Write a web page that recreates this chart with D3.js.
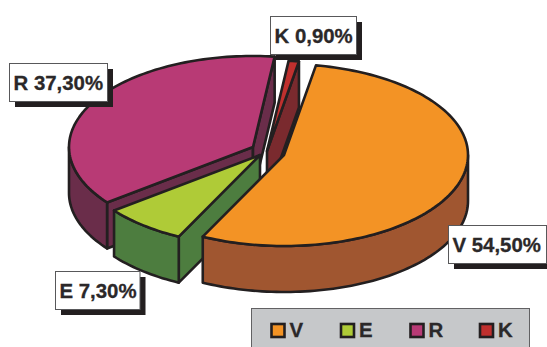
<!DOCTYPE html>
<html>
<head>
<meta charset="utf-8">
<script src="https://cdn.jsdelivr.net/npm/d3@7"></script>
<style>
html,body{margin:0;padding:0;background:#fff;overflow:hidden}
svg{display:block}
text{font-family:"Liberation Sans",Arial,sans-serif;font-weight:bold;fill:#2b2829;stroke:#2b2829;stroke-width:.3px}
</style>
</head>
<body>
<svg id="c" width="547" height="347"></svg>
<script>
const categories = ["V", "E", "R", "K"];
const shares = [54.5, 7.3, 37.3, 0.9];
const topColors = ["#f39325", "#afcb37", "#b83a75", "#c0302e"];
const wallColors = ["#a05630", "#4d7d3f", "#6a2d4a", "#7a2a2e"];
const sliceCenters = [[284, 155], [260, 155], [253, 147], [267, 151]];
const labelBoxes = [[448.5, 225.5, 98, 38], [55.5, 271.5, 84.5, 38], [9.5, 63.5, 98, 38], [270.5, 16.5, 86, 38]];
const drawOrder = [2, 1, 3, 0];

const W = 547, H = 347, rx = 184, ry = 91, depth = 46;
const ink = "#231f20";
const svg = d3.select("#c");
const rad = d => d * Math.PI / 180;

const arcs = d3.pie().sort(null).startAngle(rad(10)).endAngle(rad(370))(shares);
const line = d3.line();
const pt = (i, a, dy = 0) => [
  sliceCenters[i][0] + rx * Math.sin(a),
  sliceCenters[i][1] - ry * Math.cos(a) + dy
];
const sweep = (i, a0, a1, dy = 0) => {
  const n = Math.max(2, Math.ceil((a1 - a0) / rad(1.5)));
  return d3.range(n + 1).map(k => pt(i, a0 + (a1 - a0) * k / n, dy));
};
const poly = (g, points, fill) => g.append("path")
  .attr("d", line(points) + "Z")
  .attr("fill", fill).attr("stroke", ink)
  .attr("stroke-width", 2.6).attr("stroke-linejoin", "round");

const chart = svg.append("g");
drawOrder.forEach(i => {
  const d = arcs[i], g = chart.append("g");
  const c = sliceCenters[i];
  if (Math.sin(d.startAngle) < 0) {
    const o = pt(i, d.startAngle);
    poly(g, [c, o, [o[0], o[1] + depth], [c[0], c[1] + depth]], wallColors[i]);
  }
  if (Math.sin(d.endAngle) > 0) {
    const o = pt(i, d.endAngle);
    poly(g, [c, o, [o[0], o[1] + depth], [c[0], c[1] + depth]], wallColors[i]);
  }
  const a0 = Math.max(d.startAngle, rad(90)), a1 = Math.min(d.endAngle, rad(270));
  if (a1 > a0) {
    const topEdge = sweep(i, a0, a1), lowEdge = sweep(i, a0, a1, depth).reverse();
    poly(g, topEdge.concat(lowEdge), wallColors[i]);
  }
  poly(g, [c].concat(sweep(i, d.startAngle, d.endAngle)), topColors[i]);
});

const fmt = d3.format(".2f");
categories.forEach((name, i) => {
  const [x, y, w, h] = labelBoxes[i];
  svg.append("rect").attr("x", x + 5.5).attr("y", y + 5.5).attr("width", w).attr("height", h).attr("fill", ink);
  svg.append("rect").attr("x", x).attr("y", y).attr("width", w).attr("height", h)
    .attr("fill", "#fff").attr("stroke", "#58585a").attr("stroke-width", 1);
  svg.append("text").attr("x", x + 4).attr("y", y + 26)
    .attr("font-size", 20.4)
    .text(name + " " + fmt(shares[i]).replace(".", ",") + "%");
});

svg.append("rect").attr("x", 251.5).attr("y", 308.5).attr("width", 278).attr("height", 50)
  .attr("fill", "#c6c8ca").attr("stroke", "#616163").attr("stroke-width", 1);
const lx = d3.scalePoint().domain(categories).range([271.5, 480]);
categories.forEach((name, i) => {
  svg.append("rect").attr("x", lx(name)).attr("y", 324).attr("width", 13).attr("height", 13)
    .attr("fill", topColors[i]).attr("stroke", ink).attr("stroke-width", 2.6);
  svg.append("text").attr("x", lx(name) + 18).attr("y", 337).attr("font-size", 20.4).text(name);
});
</script>
</body>
</html>
